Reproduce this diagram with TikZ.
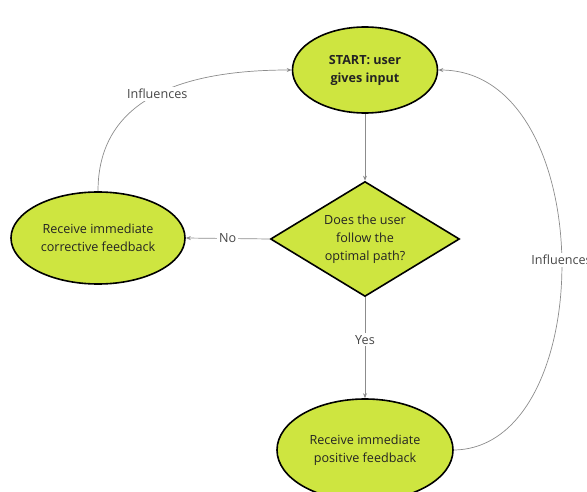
\documentclass[tikz,border=0pt]{standalone}
\usepackage{fontspec}
\setmainfont{Open Sans}
\usetikzlibrary{shapes.geometric,arrows.meta}
\definecolor{lime}{RGB}{206,229,64}
\definecolor{linkgray}{RGB}{140,140,140}
\definecolor{labelgray}{RGB}{70,70,70}
\definecolor{inktext}{RGB}{35,35,35}
\tikzset{
  blob/.style={ellipse, draw=black, line width=1.6pt, fill=lime, text=inktext,
    inner sep=0pt, align=center, font=\fontsize{12.6}{18}\selectfont},
  choice/.style={diamond, draw=black, line width=1.6pt, fill=lime,
    inner sep=0pt, minimum width=189pt, minimum height=115pt},
  choicetext/.style={text=inktext, inner sep=0pt, align=center,
    font=\fontsize{12.6}{18}\selectfont},
  link/.style={draw=linkgray, line width=0.7pt, -{Stealth[length=5pt,width=4pt]}},
  tag/.style={fill=white, text=labelgray, inner sep=2pt, font=\fontsize{12.6}{15}\selectfont}
}
\begin{document}
\begin{tikzpicture}[x=1pt,y=-1pt]
  \useasboundingbox (0,0) rectangle (587,492);
  \begin{scope}
    \clip (0,0) rectangle (587,492);
    % nodes
    \node[blob, minimum width=145pt, minimum height=86pt] (start) at (365,70)
      {\bfseries START: user\\\bfseries gives input};
    \node[choice] (ask) at (365,239) {};
    \node[choicetext] (askText) at (ask.center) {Does the user\\follow the\\optimal path?};
    \node[blob, minimum width=174pt, minimum height=92pt] (wrong) at (98,238)
      {Receive immediate\\corrective feedback};
    \node[blob, minimum width=176pt, minimum height=102pt] (right) at (365,450)
      {Receive immediate\\positive feedback};

    % connectors
    \draw[link] (start.south) -- (ask.north);
    \draw[link] (ask.west) -- node[tag] (no) {No} (wrong.east);
    \draw[link] (ask.south) -- node[tag, pos=0.42] (yes) {Yes} (right.north);
    \draw[link] (wrong.north) .. controls (98,100) and (180,70) .. (start.west)
      node[tag, pos=0.52] (inf1) {Influences};
    \draw[link] (right.east) .. controls (600,448) and (600,71) .. (start.east)
      node[tag, pos=0.5] (inf2) {Influences};
  \end{scope}
\end{tikzpicture}
\end{document}
